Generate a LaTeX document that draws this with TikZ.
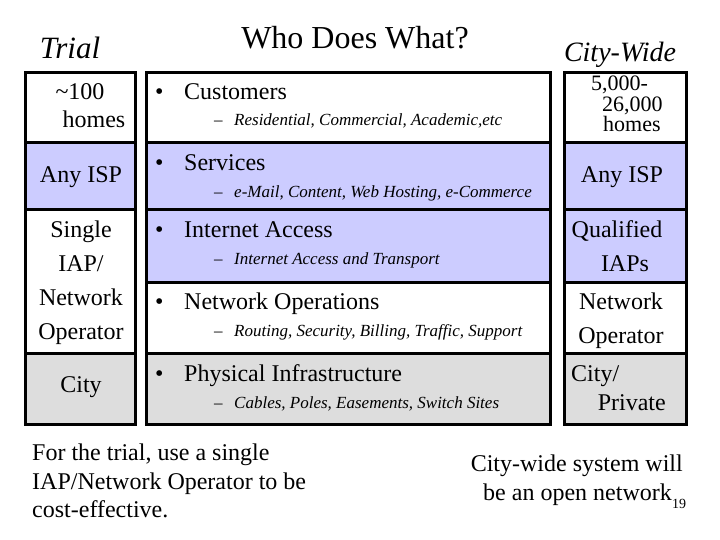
\documentclass[tikz,border=0pt]{standalone}
\usepackage{fontspec}
\setmainfont{Liberation Serif}
\usetikzlibrary{positioning}
\definecolor{rowblue}{RGB}{204,204,255}
\definecolor{rowgray}{RGB}{221,221,221}

\begin{document}
\begin{tikzpicture}[x=1pt,y=-1pt]
                \tikzstyle{every node}+=[inner sep=0pt]
                \tikzstyle{cell}=[draw=black, line width=3pt]
                \tikzstyle{big}=[font=\fontsize{24}{24}\selectfont]
                \tikzstyle{sub}=[font=\fontsize{17}{17}\selectfont\itshape, anchor=base west]
                \useasboundingbox (0,0) rectangle (720,540);
                % headings
                \node [font=\fontsize{32}{32}\selectfont, anchor=base] (title) at (355,49) {Who Does What?};
                \node [font=\fontsize{31}{31}\selectfont\itshape, anchor=base] (trial) at (70,59) {Trial};
                \node [font=\fontsize{28}{28}\selectfont\itshape, anchor=base] (citywide) at (620,62) {City-Wide};
                % left column
                \filldraw [cell, fill=white] (25.5,72.5) rectangle (135.5,143);
                \filldraw [cell, fill=rowblue] (25.5,143) rectangle (135.5,210);
                \filldraw [cell, fill=white] (25.5,210) rectangle (135.5,353);
                \filldraw [cell, fill=rowgray] (25.5,353) rectangle (135.5,424.5);
                % middle column
                \filldraw [cell, fill=white] (146.5,72.5) rectangle (550.5,143);
                \filldraw [cell, fill=rowblue] (146.5,143) rectangle (550.5,210);
                \filldraw [cell, fill=rowblue] (146.5,210) rectangle (550.5,282);
                \filldraw [cell, fill=white] (146.5,282) rectangle (550.5,353);
                \filldraw [cell, fill=rowgray] (146.5,353) rectangle (550.5,424.5);
                % right column
                \filldraw [cell, fill=white] (564.5,72.5) rectangle (686.5,143);
                \filldraw [cell, fill=rowblue] (564.5,143) rectangle (686.5,210);
                \filldraw [cell, fill=rowblue] (564.5,210) rectangle (686.5,282);
                \filldraw [cell, fill=white] (564.5,282) rectangle (686.5,353);
                \filldraw [cell, fill=rowgray] (564.5,353) rectangle (686.5,424.5);
                % trial entries
                \node [big, anchor=base] (homesA) at (80,100) {\textasciitilde100};
                \node [big, anchor=base] (homesB) at (94,128) {homes};
                \node [big, anchor=base] (ispL) at (81,183) {Any ISP};
                \node [big, anchor=base] (single) at (81,237) {Single};
                \node [big, anchor=base] (iapL) at (81,271) {IAP/};
                \node [big, anchor=base] (netL) at (81,305) {Network};
                \node [big, anchor=base] (opL) at (81,339) {Operator};
                \node [big, anchor=base] (cityL) at (81,392) {City};
                % who does what
                \node [big, anchor=base west] (b1) at (155,100) {\textbullet};
                \node [big, anchor=base west] (cust) at (184,100) {Customers};
                \node [sub] (d1) at (214,126) {--};
                \node [sub] (custsub) at (234,126) {Residential, Commercial, Academic,etc};
                \node [big, anchor=base west] (b2) at (155,171) {\textbullet};
                \node [big, anchor=base west] (serv) at (184,171) {Services};
                \node [sub] (d2) at (214,198) {--};
                \node [sub] (servsub) at (234,198) {e-Mail, Content, Web Hosting, e-Commerce};
                \node [big, anchor=base west] (b3) at (155,237) {\textbullet};
                \node [big, anchor=base west] (inet) at (184,237) {Internet Access};
                \node [sub] (d3) at (214,264) {--};
                \node [sub] (inetsub) at (234,264) {Internet Access and Transport};
                \node [big, anchor=base west] (b4) at (155,309) {\textbullet};
                \node [big, anchor=base west] (netops) at (184,309) {Network Operations};
                \node [sub] (d4) at (214,336) {--};
                \node [sub] (netopssub) at (234,336) {Routing, Security, Billing, Traffic, Support};
                \node [big, anchor=base west] (b5) at (155,381) {\textbullet};
                \node [big, anchor=base west] (phys) at (184,381) {Physical Infrastructure};
                \node [sub] (d5) at (214,408) {--};
                \node [sub] (physsub) at (234,408) {Cables, Poles, Easements, Switch Sites};
                % city-wide entries
                \node [font=\fontsize{22}{20.5}\selectfont, align=left, anchor=north west] (cwhomes) at (591,76) {5,000-\\\hspace{11pt}26,000\\\hspace{12pt}homes};
                \node [big, anchor=base] (ispR) at (622,183) {Any ISP};
                \node [big, anchor=base] (qual) at (617,237) {Qualified};
                \node [big, anchor=base] (iaps) at (625,271) {IAPs};
                \node [big, anchor=base] (netR) at (621,309) {Network};
                \node [big, anchor=base] (opR) at (621,343) {Operator};
                \node [big, anchor=base west] (cityR) at (571,381) {City/};
                \node [big, anchor=base east] (priv) at (666,410) {Private};
                % notes
                \node [big, anchor=base west] (noteA) at (32,460) {For the trial, use a single};
                \node [big, anchor=base west] (noteB) at (32,489) {IAP/Network Operator to be};
                \node [big, anchor=base west] (noteC) at (32,517) {cost-effective.};
                \node [big, anchor=base east] (openA) at (683,471) {City-wide system will};
                \node [big, anchor=base east] (openB) at (672,500) {be an open network};
                \node [font=\fontsize{14}{14}\selectfont, anchor=base west] (pageno) at (672,508) {19};
            \end{tikzpicture}
\end{document}
